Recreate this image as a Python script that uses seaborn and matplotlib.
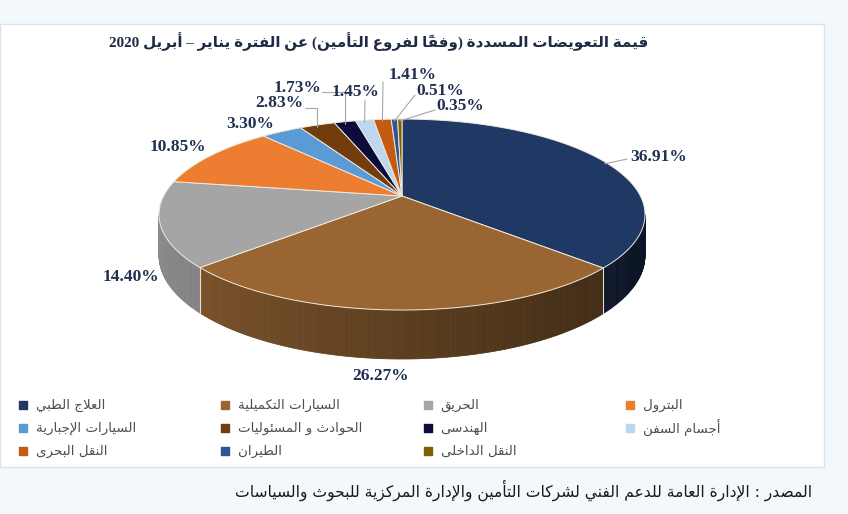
import re
import numpy as np
import matplotlib
matplotlib.use("Agg")
import matplotlib.pyplot as plt
from matplotlib.patches import Rectangle
from matplotlib.colors import to_rgb
import seaborn as sns

# ---- data ----
branches = ["العلاج الطبي", "السيارات التكميلية", "الحريق", "البترول",
            "السيارات الإجبارية", "الحوادث و المسئوليات", "الهندسى", "أجسام السفن",
            "النقل البحرى", "الطيران", "النقل الداخلى"]
shares = [36.91, 26.27, 14.40, 10.85, 3.30, 2.83, 1.73, 1.45, 1.41, 0.51, 0.35]
colors = ["#203864", "#996633", "#a5a5a5", "#ed7d31", "#5b9bd5", "#733c0c",
          "#0c0c3a", "#bdd7ee", "#c55a11", "#2f5597", "#806000"]
title = "قيمة التعويضات المسددة (وفقاً لفروع التأمين) عن الفترة يناير – أبريل 2020"
source = "المصدر : الإدارة العامة للدعم الفني لشركات التأمين والإدارة المركزية للبحوث والسياسات"

# label placement (pixels) and leader starts
label_xy = [(659, 157), (381, 376), (131, 277), (178, 147), (250, 124), (279, 103),
            (298, 88), (356, 92), (413, 75), (440, 91), (460, 106)]
leader_from = {0: (627, 159), 5: (305, 108), 6: (322, 92), 7: (365, 100),
               8: (383, 82), 9: (415, 95), 10: (435, 110)}

# ---- tiny arabic shaper: matplotlib does not join/reorder arabic itself ----
_RJOIN = set("آأؤإاةدذرزوى")
_FORMS = {}
_code = 0xFE80
for cp in list(range(0x0621, 0x063B)) + list(range(0x0641, 0x064B)):
    ch = chr(cp)
    n = 1 if ch == "ء" else (2 if ch in _RJOIN else 4)
    _FORMS[ch] = (_code, n)
    _code += n
_DUAL = {c for c, (_, n) in _FORMS.items() if n == 4}
_LAMALEF = {"آ": 0xFEF5, "أ": 0xFEF7, "إ": 0xFEF9, "ا": 0xFEFB}
_MARKS = {chr(c) for c in range(0x064B, 0x0653)}


def ar(text):
    s, out, i, n = text, [], 0, len(text)
    while i < n:
        c = s[i]
        if c not in _FORMS:
            out.append(c)
            i += 1
            continue
        j = i - 1
        while j >= 0 and s[j] in _MARKS:
            j -= 1
        jp = int(j >= 0 and s[j] in _DUAL)
        k = i + 1
        while k < n and s[k] in _MARKS:
            k += 1
        nx = s[k] if k < n else ""
        if c == "ل" and nx in _LAMALEF:
            out.append(chr(_LAMALEF[nx] + jp))
            i = k + 1
            continue
        jn = int(c in _DUAL and nx in _FORMS and nx != "ء")
        base, cnt = _FORMS[c]
        idx = [0, 2, 1, 3][jp * 2 + jn] if cnt == 4 else (jp if cnt == 2 else 0)
        out.append(chr(base + idx))
        i += 1
    groups = []
    for t in re.findall(r"[0-9A-Za-z.%]+|.", "".join(out)):
        if t in _MARKS and groups:
            groups[-1] += t
        else:
            groups.append(t)
    mirror = {"(": ")", ")": "("}
    return "".join(mirror.get(g, g) for g in reversed(groups))


sns.set_theme(style="white")
plt.rcParams["font.family"] = ["DejaVu Sans"]

fig = plt.figure(figsize=(8.48, 5.14), dpi=100, facecolor="#f3f8fc")
ax = fig.add_axes([0, 0, 1, 1])
ax.set_xlim(0, 848)
ax.set_ylim(514, 0)
ax.axis("off")
ax.add_patch(Rectangle((0, 24), 824, 443, fc="white", ec="#dde2e8", lw=1, zorder=0))

# ---- 3d pie (perspective disc) ----
cx, cy = 402, 196
A, B, kp, D = 238.4, 91.9, 0.194, 39.5


def proj(theta, drop=0.0):
    t = np.radians(theta)
    w = 1 + kp * np.cos(t)
    return cx + A * np.sin(t) / w, cy - B * np.cos(t) / w + drop / w


total = sum(shares)
edges = np.concatenate([[0], np.cumsum(shares)]) / total * 360
th_lo = np.degrees(np.arccos(-kp))
th_hi = 360 - th_lo

for i in range(len(shares)):
    a0, a1 = max(edges[i], th_lo), min(edges[i + 1], th_hi)
    if a1 <= a0:
        continue
    ts = np.linspace(a0, a1, max(2, int((a1 - a0) * 2)))
    base = np.array(to_rgb(colors[i]))
    for t0, t1 in zip(ts[:-1], ts[1:]):
        xa, ya = proj(t0)
        xb, yb = proj(t1)
        ya2 = proj(t0, D)[1]
        yb2 = proj(t1, D)[1]
        f = 0.6 - 0.25 * np.sin(np.radians((t0 + t1) / 2))
        c = np.clip(base * f, 0, 1)
        ax.fill([xa, xb, xb, xa], [ya, yb, yb2, ya2], fc=c, ec=c, lw=0.5, zorder=2)

for e in edges:
    if th_lo < e < th_hi:
        x0, y0 = proj(e)
        ax.plot([x0, x0], [y0, proj(e, D)[1]], color="#e6dccb", lw=0.8, zorder=3)

for i in range(len(shares)):
    ts = np.linspace(edges[i], edges[i + 1], max(3, int((edges[i + 1] - edges[i]) * 2)))
    xs, ys = proj(ts)
    ax.fill(np.r_[cx, xs], np.r_[cy, ys], fc=colors[i], ec="#f1e9dc", lw=0.7, zorder=4)

# ---- percent labels ----
for i, v in enumerate(shares):
    lx, ly = label_xy[i]
    ax.text(lx, ly, f"{v:.2f}%", ha="center", va="center", fontsize=12.5,
            fontweight="bold", family=["Liberation Serif"], color="#1f3050", zorder=6)
    if i in leader_from:
        mid = (edges[i] + edges[i + 1]) / 2
        ex, ey = proj(mid)
        sx, sy = leader_from[i]
        if i in (5, 6):
            ax.plot([sx, ex, ex], [sy, sy, ey + 2], color="#a6a6a6", lw=0.8, zorder=5)
        else:
            ax.plot([sx, ex], [sy, ey + 2], color="#a6a6a6", lw=0.8, zorder=5)

# ---- title ----
ax.text(379, 42, ar(title), ha="center", va="center", fontsize=10.9, fontweight="bold",
        family=["Liberation Serif", "DejaVu Sans"], color="#1f2a44", zorder=6)

# ---- legend ----
for i, name in enumerate(branches):
    r, c = divmod(i, 4)
    mx, my = 23 + 202.3 * c, 405 + 23 * r
    ax.scatter([mx], [my], marker="s", s=36, color=colors[i], zorder=6)
    ax.text(mx + 13, my, ar(name), ha="left", va="center", fontsize=9.6,
            color="#4d4d4d", zorder=6)

# ---- source ----
ax.text(812, 490, ar(source), ha="right", va="center", fontsize=11.2, color="#1a1a1a")

fig.savefig("out.png", dpi=100, facecolor=fig.get_facecolor())
